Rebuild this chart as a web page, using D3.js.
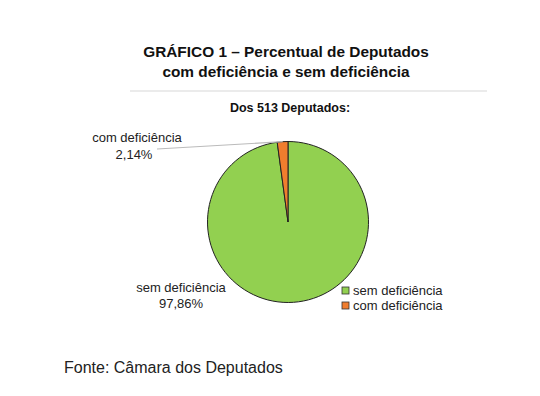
<!DOCTYPE html>
<html><head><meta charset="utf-8">
<script src="https://cdn.jsdelivr.net/npm/d3@7/dist/d3.min.js"></script>
<style>body{margin:0;background:#fff;} svg{display:block;font-family:"Liberation Sans",Arial,sans-serif;}</style>
</head><body>
<script>
const categories = ["sem deficiência", "com deficiência"];
const values = [97.86, 2.14];
const valueLabels = ["97,86%", "2,14%"];
const colors = ["#92D050", "#F07D2E"];
const titleLines = ["GRÁFICO 1 – Percentual de Deputados", "com deficiência e sem deficiência"];
const subtitle = "Dos 513 Deputados:";
const source = "Fonte: Câmara dos Deputados";

const W = 540, H = 396;
const svg = d3.select("body").append("svg").attr("width", W).attr("height", H);

svg.selectAll("text.title").data(titleLines).join("text")
  .attr("x", 286).attr("y", (d, i) => 57 + i * 20)
  .attr("text-anchor", "middle").attr("font-size", 15.4).attr("font-weight", "bold").attr("fill", "#111")
  .text(d => d);

svg.append("line").attr("x1", 130).attr("x2", 487).attr("y1", 91).attr("y2", 91)
  .attr("stroke", "#e4e4e4").attr("stroke-width", 1.5);

svg.append("text").attr("x", 290).attr("y", 112).attr("text-anchor", "middle")
  .attr("font-size", 12.5).attr("font-weight", "bold").attr("fill", "#111").text(subtitle);

const cx = 288, cy = 222, r = 80.5;
const pie = d3.pie().sort(null).value(d => d)(values);
const arc = d3.arc().innerRadius(0).outerRadius(r);
const g = svg.append("g").attr("transform", `translate(${cx},${cy})`);
g.selectAll("path").data(pie).join("path")
  .attr("d", arc).attr("fill", (d, i) => colors[i])
  .attr("stroke", "#222").attr("stroke-width", 1);

// leader line for small slice
const small = pie[1];
const midA = (small.startAngle + small.endAngle) / 2;
const ex = cx + Math.sin(midA) * r, ey = cy - Math.cos(midA) * r;
svg.append("line").attr("x1", 157).attr("y1", 149).attr("x2", ex).attr("y2", ey)
  .attr("stroke", "#bbb").attr("stroke-width", 1.2);

const labelPos = [[181, 292, 308], [137, 142, 159]];
categories.forEach((c, i) => {
  const [x, y1, y2] = labelPos[i];
  svg.append("text").attr("x", x).attr("y", y1).attr("text-anchor", "middle")
    .attr("font-size", 13).attr("fill", "#222").text(c);
  svg.append("text").attr("x", i === 1 ? 134 : x).attr("y", y2).attr("text-anchor", "middle")
    .attr("font-size", 13).attr("fill", "#222").text(valueLabels[i]);
});

const lg = svg.append("g").attr("transform", "translate(342,285)");
categories.forEach((c, i) => {
  lg.append("rect").attr("x", 0).attr("y", i * 15 + 2).attr("width", 7).attr("height", 7)
    .attr("fill", colors[i]).attr("stroke", "#333").attr("stroke-width", 0.8);
  lg.append("text").attr("x", 11).attr("y", i * 15 + 10).attr("font-size", 13).attr("fill", "#222").text(c);
});

svg.append("text").attr("x", 64).attr("y", 373).attr("font-size", 16).attr("fill", "#222").text(source);
</script>
</body></html>
